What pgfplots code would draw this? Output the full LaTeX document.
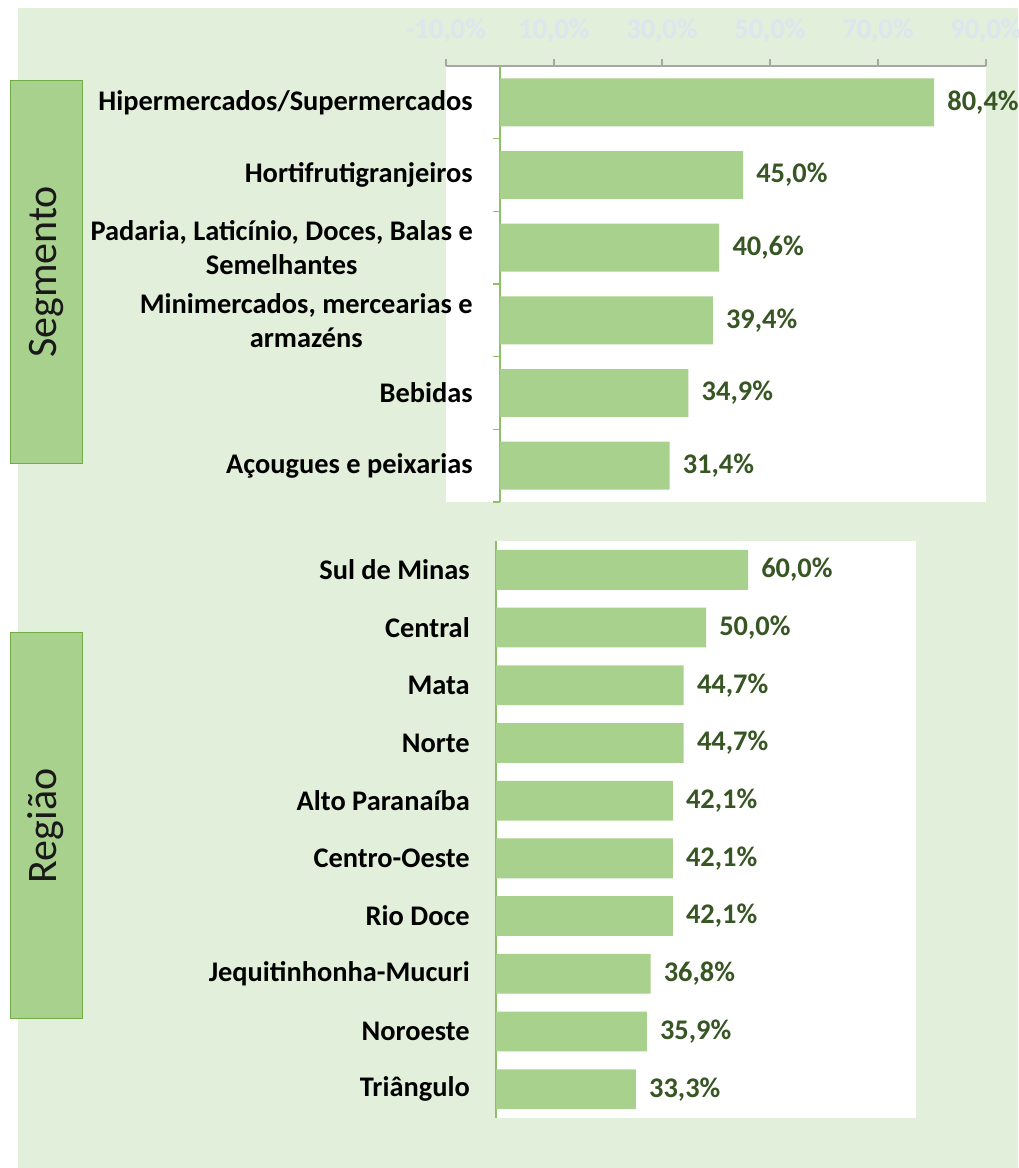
\documentclass[border=0pt]{standalone}
\usepackage{fontspec}
\setmainfont{Carlito}
\usepackage{pgfplots}
\pgfplotsset{compat=1.18}
\newlength{\px}\setlength{\px}{0.75pt}
\definecolor{bg}{HTML}{E2EFDA}
\definecolor{barg}{HTML}{A9D18E}
\definecolor{boxdraw}{HTML}{70AD47}
\definecolor{lab}{HTML}{375623}
\definecolor{faint}{HTML}{DCE5F0}
\definecolor{axgray}{HTML}{A6A6A6}
\definecolor{ygreen}{HTML}{8CC168}
\newcommand\lblfont{\fontsize{21.3pt}{25.5pt}\selectfont\bfseries}
\newcommand\bigfont{\fontsize{31.5pt}{36pt}\selectfont}
\pgfplotsset{
  lblnodes/.style={
    nodes near coords={\pgfmathprintnumber[fixed,fixed zerofill,precision=1,use comma,assume math mode=true]{\pgfplotspointmeta}\%},
    point meta=x,
    every node near coord/.append style={anchor=west, inner sep=0pt, xshift=13\px, font=\lblfont, text=lab},
  }
}
\begin{document}
\begin{tikzpicture}
\fill[white] (0,0) rectangle (1018\px,-1168\px);
\fill[bg] (18\px,-8\px) rectangle (1018\px,-1168\px);
\path[use as bounding box] (0,0) rectangle (1018\px,-1168\px);
\draw[boxdraw, fill=barg, line width=1\px] (10\px,-80\px) rectangle (82\px,-463\px);
\node[rotate=90, font=\bigfont, text=black!90] at (46\px,-272\px) {Segmento};
\draw[boxdraw, fill=barg, line width=1\px] (10\px,-632\px) rectangle (82\px,-1018\px);
\node[rotate=90, font=\bigfont, text=black!90] at (46\px,-826\px) {Região};

\begin{axis}[
  at={(446\px,-66\px)}, anchor=north west,
  scale only axis, width=540\px, height=436\px,
  xmin=-10, xmax=90, ymin=-0.5, ymax=5.5, y dir=reverse,
  axis background/.style={fill=white},
  axis x line*=top, axis y line*=middle,
  x axis line style={draw=axgray, line width=1.5\px},
  y axis line style={draw=ygreen, line width=1.5\px},
  tick align=outside,
  major tick length=7\px, minor tick length=7\px,
  xtick={-10,10,30,50,70,90},
  xticklabels={{-10,0\%},{10,0\%},{30,0\%},{50,0\%},{70,0\%},{90,0\%}},
  xticklabel style={font=\lblfont, text=faint, yshift=12\px},
  major x tick style={draw=axgray, line width=1.5\px},
  ytick={0,...,5},
  minor ytick={-0.5,0.5,...,5.5},
  major y tick style={draw=none},
  minor y tick style={draw=ygreen, line width=1.5\px},
  yticklabels={Hipermercados/Supermercados, Hortifrutigranjeiros, {Padaria, Laticínio, Doces, Balas e\\Semelhantes}, {Minimercados, mercearias e\\armazéns}, Bebidas, Açougues e peixarias},
  yticklabel style={font=\lblfont, align=center, anchor=east, inner sep=0pt, xshift=-20\px},
  clip=false,
]
\addplot[xbar, fill=barg, draw=none, bar width=0.66, bar shift=0pt, lblnodes] coordinates {
  (80.4,0) (45.0,1) (40.6,2) (39.4,3) (34.9,4) (31.4,5)
};
\end{axis}

\begin{axis}[
  at={(496\px,-541\px)}, anchor=north west,
  scale only axis, width=420\px, height=577\px,
  xmin=0, xmax=100, ymin=-0.5, ymax=9.5, y dir=reverse,
  axis background/.style={fill=white},
  axis x line=none, axis y line*=left,
  y axis line style={draw=ygreen, line width=1.5\px},
  ytick={0,...,9},
  major tick length=0pt,
  major y tick style={draw=none},
  yticklabels={Sul de Minas, Central, Mata, Norte, Alto Paranaíba, Centro-Oeste, Rio Doce, Jequitinhonha-Mucuri, Noroeste, Triângulo},
  yticklabel style={font=\lblfont, align=center, anchor=east, inner sep=0pt, xshift=-26\px},
  clip=false,
]
\addplot[xbar, fill=barg, draw=none, bar width=0.69, bar shift=0pt, lblnodes] coordinates {
  (60.0,0) (50.0,1) (44.7,2) (44.7,3) (42.1,4) (42.1,5) (42.1,6) (36.8,7) (35.9,8) (33.3,9)
};
\end{axis}
\end{tikzpicture}
\end{document}
